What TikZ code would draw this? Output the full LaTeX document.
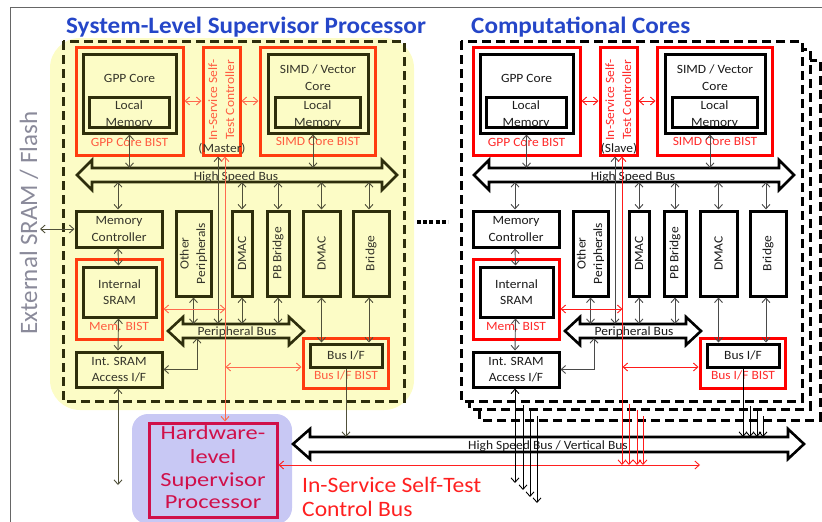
\documentclass[tikz,border=0pt]{standalone}
\usepackage{fontspec}
\usepackage{graphicx}
\setmainfont{Carlito}[FakeStretch=1.07]
\newfontfamily\extfont{Carlito}
\newfontfamily\hwfont{Carlito}[FakeStretch=1.22]
\usetikzlibrary{arrows.meta}

\definecolor{titleblue}{HTML}{2546C8}
\definecolor{extgray}{HTML}{8A8A9A}
\definecolor{paleyellow}{HTML}{FCFCC6}
\definecolor{lavender}{HTML}{C8C8F4}
\definecolor{crimson}{HTML}{D0104A}
\definecolor{busred}{HTML}{FF2020}
\definecolor{framegray}{HTML}{666666}
% supervisor side (seen through the yellow wash)
\definecolor{lbox}{HTML}{2E2E0C}
\definecolor{lred}{HTML}{FF3C10}
\definecolor{larr}{HTML}{50503A}
\definecolor{lrline}{HTML}{FF6A4E}
\definecolor{ltxt}{HTML}{35352A}
\definecolor{lrtxt}{HTML}{FF5C40}
% computational side
\definecolor{rarrc}{HTML}{4A4A4A}
\definecolor{rrline}{HTML}{FF1A1A}
\definecolor{rtxt}{HTML}{1A1A1A}
\definecolor{rrtxt}{HTML}{FF2A2A}
\colorlet{pbox}{black}\colorlet{pred}{red}\colorlet{parr}{black}
\colorlet{prline}{red}\colorlet{ptxt}{black}\colorlet{prtxt}{red}

\newcommand\lbfont{\fontsize{12.6}{16.5}\selectfont}

\tikzset{
  bbox/.style={draw=pbox, line width=3pt, inner sep=0pt, align=center, text=ptxt, font=\lbfont},
  rbox/.style={draw=pred, line width=3pt, inner sep=0pt},
  lbl/.style={text=ptxt, font=\lbfont, inner sep=0pt, anchor=base},
  rlbl/.style={text=prtxt, font=\lbfont, inner sep=0pt, anchor=base},
  arr/.style={draw=parr, line width=0.9pt},
  rarr/.style={draw=prline, line width=0.9pt},
  bus/.style={draw=pbox, line width=2.6pt, line join=miter},
  dashbox/.style={line width=3pt, dash pattern=on 9pt off 5pt},
  ttl/.style={anchor=base west, inner sep=0pt, text=titleblue,
    font=\fontsize{23.5}{28}\selectfont\bfseries},
}

% box given by its corners: style, name, x1, y1, x2, y2, text
\newcommand\bx[7]{\node[#1, minimum width={(#5-#3)*1pt}, minimum height={(#6-#4)*1pt}]
  (#2) at ({(#3+#5)/2},{(#4+#6)/2}) {#7};}

% one processor tile: prefix, controller role
\newcommand\panel[2]{%
  \bx{rbox}{#1gb}{76}{47}{183}{155}{}
  \bx{bbox}{#1gc}{83}{54}{176}{133}{}
  \node[lbl] (#1gct) at (129.5,82) {GPP Core};
  \node[lbl] (#1glt1) at (129,109) {Local};
  \node[lbl] (#1glt2) at (129,126) {Memory};
  \bx{bbox}{#1glm}{89}{97}{169}{127}{}
  \node[rlbl] (#1gbt) at (129.5,146) {GPP Core BIST};
  \bx{rbox}{#1ic}{203}{47}{240}{155}{}
  \node[rlbl, rotate=90] (#1ict1) at (217,100) {In-Service Self-};
  \node[rlbl, rotate=90] (#1ict2) at (234,100) {Test Controller};
  \node[lbl] (#1ms) at (222,152) {#2};
  \bx{rbox}{#1sb}{260}{47}{375}{155}{}
  \bx{bbox}{#1sc}{268}{54}{368}{133}{}
  \node[lbl] (#1sct1) at (318,73.5) {SIMD / Vector};
  \node[lbl] (#1sct2) at (318,90) {Core};
  \node[lbl] (#1slt1) at (317.5,109) {Local};
  \node[lbl] (#1slt2) at (317.5,126) {Memory};
  \bx{bbox}{#1slm}{275}{97}{360}{127}{}
  \node[rlbl] (#1sbt) at (318,145.5) {SIMD Core BIST};
  \draw[rarr,<->] (#1gb.east) -- (#1ic.west);
  \draw[rarr,<->] (#1ic.east) -- (#1sb.west);
  % high speed bus
  \draw[bus] (77,175) -- (92,160) -- (92,168) -- (382,168) -- (382,160) -- (397,175)
    -- (382,190) -- (382,182) -- (92,182) -- (92,190) -- cycle;
  \coordinate (#1hT) at (92,168);
  \coordinate (#1hB) at (92,182);
  \node[lbl] (#1hst) at (236,180.5) {High Speed Bus};
  % memory column and peripherals
  \bx{bbox}{#1mc}{76}{211}{162}{247}{Memory\\Controller}
  \bx{bbox}{#1op}{176}{211}{211}{296}{\rotatebox{90}{\begin{tabular}{@{}c@{}}Other\\Peripherals\end{tabular}}}
  \bx{bbox}{#1d1}{232}{211}{252}{296}{\rotatebox{90}{DMAC}}
  \bx{bbox}{#1pb}{267}{211}{289}{296}{\rotatebox{90}{PB Bridge}}
  \bx{bbox}{#1d2}{303}{211}{340}{296}{\rotatebox{90}{DMAC}}
  \bx{bbox}{#1br}{353}{211}{389}{296}{\rotatebox{90}{Bridge}}
  \bx{rbox}{#1mb}{76}{259}{162}{339}{}
  \bx{bbox}{#1is}{83}{267}{156}{317}{Internal\\SRAM}
  \node[rlbl] (#1mbt) at (119,330) {Mem. BIST};
  \bx{bbox}{#1ac}{76}{352}{162}{387}{Int. SRAM\\Access I/F}
  % peripheral bus
  \draw[bus] (168,331) -- (183,317) -- (183,324) -- (289,324) -- (289,317) -- (304,331)
    -- (289,345) -- (289,338) -- (183,338) -- (183,345) -- cycle;
  \coordinate (#1pT) at (183,324);
  \coordinate (#1pB) at (197,338);
  \node[lbl] (#1pbt) at (237,335.5) {Peripheral Bus};
  \bx{rbox}{#1bb}{303}{338}{388}{388}{}
  \bx{bbox}{#1bi}{310}{344}{382}{367}{Bus I/F}
  \node[rlbl] (#1bbt) at (346,379) {Bus I/F BIST};
  % connectors
  \draw[arr,<->] (#1gc.south) -- (#1gc.south |- #1hT);
  \draw[arr,<->] ([xshift=-5pt]#1sc.south) -- ([xshift=-5pt]#1sc.south |- #1hT);
  \draw[arr,<->] ([xshift=-1pt]#1mc.north) -- ([xshift=-1pt]#1mc.north |- #1hB);
  \foreach \m in {d1,pb,d2} \draw[arr,<->] (#1\m.north) -- (#1\m.north |- #1hB);
  \draw[arr,<->] ([xshift=-2pt]#1br.north) -- ([xshift=-2pt]#1br.north |- #1hB);
  \draw[arr,<->] ([xshift=-3.5pt]#1ic.south) -- ([xshift=-3.5pt]#1ic.south |- #1pT);
  \draw[arr,<->] ([xshift=-1pt]#1mc.south) -- ([xshift=-1pt]#1is.north);
  \draw[arr,<->] ([xshift=-1pt]#1is.south) -- ([xshift=-1pt]#1ac.north);
  \foreach \m in {op,d1,pb} \draw[arr,<->] (#1\m.south) -- (#1\m.south |- #1pT);
  \draw[arr,<->] (#1d2.south) -- (#1d2.south |- #1bi.north);
  \draw[arr,<->] ([xshift=-2pt]#1br.south) -- ([xshift=-2pt]#1br.south |- #1bi.north);
  \draw[arr,<->] (#1pB) |- (#1ac.east);
  \coordinate (#1rA) at (225.5,309);
  \coordinate (#1rB) at (225.5,367);
  \draw[rarr,<->] (#1mb.east |- #1rA) -- (#1rA);
  \draw[rarr,<->] (#1rB) -- (#1bb.west |- #1rB);
}

\begin{document}
\begin{tikzpicture}[x=1pt,y=-1pt,>={Straight Barb[length=4.5pt,width=8pt]}]
\useasboundingbox (0,0) rectangle (822,522);
% slide frame
\coordinate (fr1) at (822,7);
\coordinate (fr2) at (10,7);
\coordinate (fr3) at (10,522);
\draw[framegray, line width=0.8pt] (fr1) -- (fr2) -- (fr3);

% backgrounds
\fill[paleyellow, rounded corners=30pt] (50,38) rectangle (414,410);
\fill[lavender, rounded corners=16pt] (132,414) rectangle (292,524);

% titles
\node[ttl] (t1) at (66,33) {System-Level Supervisor Processor};
\node[ttl] (t2) at (471,33) {Computational Cores};
\node[rotate=90, anchor=base, inner sep=0pt, text=extgray,
  font=\extfont\fontsize{25}{30}\selectfont] (ext) at (37,223) {External SRAM / Flash};

% stacked computational tiles
\draw[dashbox, fill=white] (479,60) rectangle (820,420);
\draw[dashbox, fill=white] (469,49) rectangle (810,409);
\draw[dashbox, fill=white] (461,41) rectangle (802,401);
\draw[dashbox, draw=lbox] (63,41) rectangle (404,401);

% continuation dots
\coordinate (dt1) at (417,222);
\coordinate (dt2) at (448,222);
\draw[line width=4pt, dash pattern=on 4pt off 2.2pt] (dt1) -- (dt2);

% hardware supervisor
\node[draw=crimson, line width=3pt, minimum width=128pt, minimum height=94pt, inner sep=0pt]
  (hw) at (213,470) {};
\begin{scope}[every node/.style={anchor=base, inner sep=0pt, text=crimson,
    font=\hwfont\fontsize{20}{23}\selectfont}]
  \node (hw1) at (213,439) {Hardware-};
  \node (hw2) at (213,463) {level};
  \node (hw3) at (213,486) {Supervisor};
  \node (hw4) at (213,508) {Processor};
\end{scope}

% vertical high speed bus
\draw[line width=2.6pt, line join=miter] (293,444) -- (310,429) -- (310,437) -- (788,437)
  -- (788,429) -- (804,444) -- (788,459) -- (788,452) -- (310,452) -- (310,459) -- cycle;
\coordinate (vbT) at (310,437);
\node[font=\lbfont, text=rtxt, anchor=base, inner sep=0pt] (vbt) at (548,449.5)
  {High Speed Bus / Vertical Bus};

% self-test control bus
\coordinate (cbE) at (700,465);
\draw[<->, busred, line width=0.9pt] (hw.east |- cbE) -- (cbE);
\node[anchor=base west, inner sep=0pt, text=busred, font=\fontsize{22}{25}\selectfont]
  (cbt1) at (302,492) {In-Service Self-Test};
\node[anchor=base west, inner sep=0pt, text=busred, font=\fontsize{22}{25}\selectfont]
  (cbt2) at (302,516) {Control Bus};

% supervisor tile
\begin{scope}
  \colorlet{pbox}{lbox}\colorlet{pred}{lred}\colorlet{parr}{larr}
  \colorlet{prline}{lrline}\colorlet{ptxt}{ltxt}\colorlet{prtxt}{lrtxt}
  \panel{L}{(Master)}
  \coordinate (Lext) at (40,229);
  \draw[arr,<->] (Lext) -- (Lmc.west |- Lext);
  \draw[rarr,<->] ([xshift=3.5pt]Lic.south) -- ([xshift=3.5pt]Lic.south |- hw.north);
  \draw[arr,->] (Lbi.south) -- (Lbi.south |- vbT);
  \coordinate (Lacc) at (118,485);
  \draw[arr,<->] ([xshift=-1pt]Lac.south) -- (Lacc);
\end{scope}

% front computational tile
\begin{scope}[xshift=397pt]
  \colorlet{pbox}{black}\colorlet{pred}{red}\colorlet{parr}{rarrc}
  \colorlet{prline}{rrline}\colorlet{ptxt}{rtxt}\colorlet{prtxt}{rrtxt}
  \panel{R}{(Slave)}
  \draw[rarr,<->] ([xshift=3.5pt]Ric.south) -- ([xshift=3.5pt]Ric.south |- cbE);
  \draw[arr,draw=black,->] (Rbi.south) -- (Rbi.south |- vbT);
  \coordinate (Racc) at (118,483);
  \draw[arr,draw=black,<->] ([xshift=-1pt]Rac.south) -- (Racc);
\end{scope}

% links of the tiles stacked behind
\foreach \i/\x/\ys/\ye in {1/523/405/490, 2/530/410/497, 3/537/416/503}{
  \coordinate (bacS\i) at (\x,\ys);
  \coordinate (bacE\i) at (\x,\ye);
  \draw[line width=0.9pt, ->] (bacS\i) -- (bacE\i);
}
\foreach \i/\x/\ys in {1/629/404, 2/637/410, 3/643/416}{
  \coordinate (brdS\i) at (\x,\ys);
  \draw[rrline, line width=0.9pt, ->] (brdS\i) -- (brdS\i |- cbE);
}
\foreach \i/\x/\ys in {1/750/406, 2/757/410, 3/763/416}{
  \coordinate (bbiS\i) at (\x,\ys);
  \draw[line width=0.9pt, ->] (bbiS\i) -- (bbiS\i |- vbT);
}
\end{tikzpicture}
\end{document}
